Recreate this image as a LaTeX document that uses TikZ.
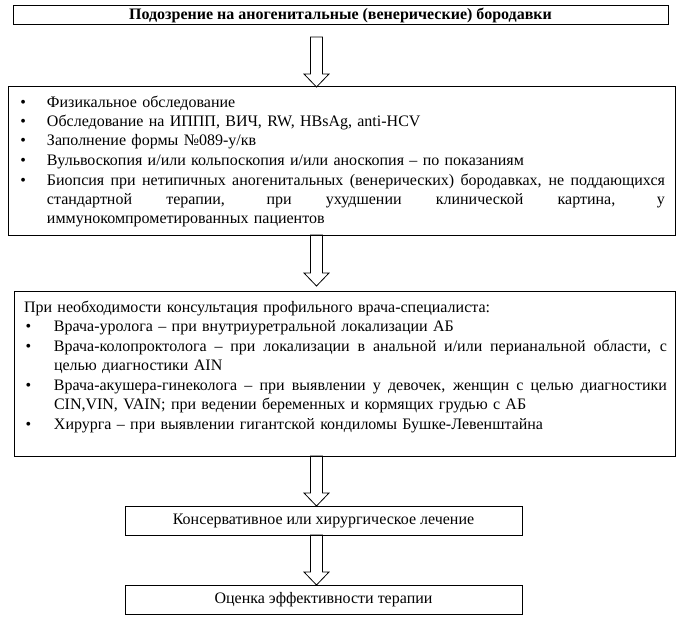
\documentclass[tikz,border=0pt]{standalone}
\usepackage{fontspec}
\setmainfont{Liberation Serif}
\usetikzlibrary{calc}
\newcommand{\Bul}[1]{\makebox[#1][l]{\hspace{1.5pt}\textbullet}}
\newcommand{\Jst}[2]{\hbox to \dimexpr\linewidth-#1\relax{\spaceskip=\fontdimen2\font plus 1fil\relax #2}}
\newcommand{\BL}[2]{\noindent\Bul{#1}#2\par}
\newcommand{\BJ}[2]{\noindent\Bul{#1}\Jst{#1}{#2}\par}
\newcommand{\CJ}[2]{\noindent\hspace*{#1}\Jst{#1}{#2}\par}
\newcommand{\CL}[2]{\noindent\hspace*{#1}#2\par}
\tikzset{
  box/.style={draw, line width=1pt, inner sep=0pt, outer sep=0pt},
  txt/.style={inner sep=0pt, outer sep=0pt, anchor=base west, align=left,
    font=\fontsize{16}{19.5}\selectfont},
  blk/.style={draw, line width=0.8pt, line join=miter,
    to path={let \p1=(\tikztostart), \p2=(\tikztotarget) in
      (\x1-6pt,\y1) -- (\x1-6pt,\y2+13pt) -- (\x1-12.5pt,\y2+13pt) -- (\x1,\y2)
      -- (\x1+12.5pt,\y2+13pt) -- (\x1+6pt,\y2+13pt) -- (\x1+6pt,\y1) -- cycle}}
}
\begin{document}
\begin{tikzpicture}[x=1pt,y=-1pt]
\useasboundingbox (0,0) rectangle (681,618);
\node[box, minimum width=655pt, minimum height=19pt, font=\fontsize{16}{19.5}\selectfont\bfseries] (b1) at (340.5,15.5)
  {Подозрение на аногенитальные (венерические) бородавки};
\node[box, minimum width=667pt, minimum height=148pt] (b2) at (341.5,161) {};
\node[box, minimum width=661pt, minimum height=165pt] (b3) at (344.5,373.5) {};
\node[box, minimum width=397pt, minimum height=29pt, font=\fontsize{16}{19.5}\selectfont] (b4) at (323.5,520.5)
  {Консервативное или хирургическое лечение};
\node[box, minimum width=397pt, minimum height=29pt, font=\fontsize{16}{19.5}\selectfont] (b5) at (323.5,599.5)
  {Оценка эффективности терапии};
\node[txt, text width=646pt] (t2) at (19,107) {%
\BL{28pt}{Физикальное обследование}
\BL{28pt}{Обследование на ИППП, ВИЧ, RW, HBsAg, anti-HCV}
\BL{28pt}{Заполнение формы №089-у/кв}
\BL{28pt}{Вульвоскопия и/или кольпоскопия и/или аноскопия – по показаниям}
\BJ{28pt}{Биопсия при нетипичных аногенитальных (венерических) бородавках, не поддающихся}
\CJ{28pt}{стандартной терапии, при ухудшении клинической картина, у}
\CL{28pt}{иммунокомпрометированных пациентов}};
\node[txt, text width=643pt] (t3) at (24,312) {%
\noindent При необходимости консультация профильного врача-специалиста:\par
\BL{30pt}{Врача-уролога – при внутриуретральной локализации АБ}
\BJ{30pt}{Врача-колопроктолога – при локализации в анальной и/или перианальной области, с}
\CL{30pt}{целью диагностики AIN}
\BJ{30pt}{Врача-акушера-гинеколога – при выявлении у девочек, женщин с целью диагностики}
\CL{30pt}{CIN,VIN, VAIN; при ведении беременных и кормящих грудью с АБ}
\BL{30pt}{Хирурга – при выявлении гигантской кондиломы Бушке-Левенштайна}};
\coordinate (ax) at (316.5,0);
\coordinate (a1s) at (316.5,37);
\draw[blk] (a1s) to (b2.north -| ax);
\draw[blk] (b2.south -| ax) to ($(b3.north -| ax)+(0,-5)$);
\draw[blk] (b3.south -| ax) to (b4.north -| ax);
\draw[blk] (b4.south -| ax) to (b5.north -| ax);
\end{tikzpicture}
\end{document}
